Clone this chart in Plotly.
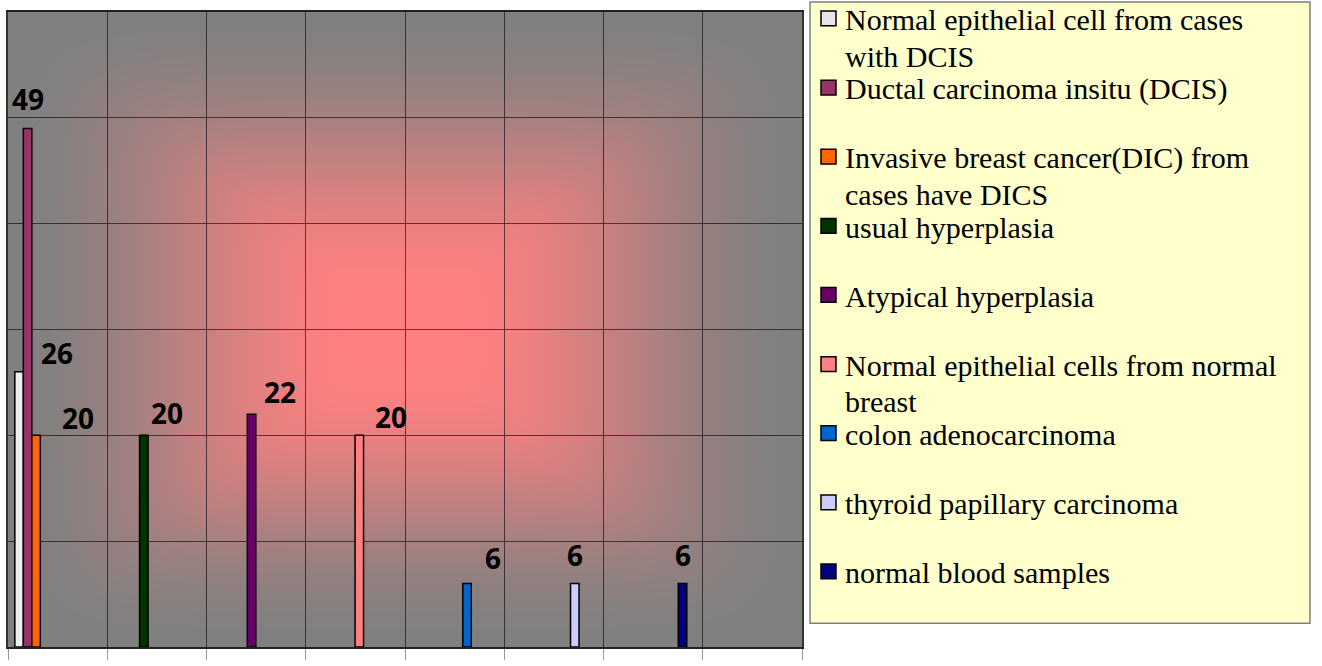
import numpy as np, zlib, struct, base64
import plotly.graph_objects as go

# ---------------- data ----------------
series_names = [
    "Normal epithelial cell from cases<br>with DCIS",
    "Ductal carcinoma insitu (DCIS)",
    "Invasive breast cancer(DIC) from<br>cases have DICS",
    "usual hyperplasia",
    "Atypical hyperplasia",
    "Normal epithelial cells from normal<br>breast",
    "colon adenocarcinoma",
    "thyroid papillary carcinoma",
    "normal blood samples",
]
series_values = [26, 49, 20, 20, 22, 20, 6, 6, 6]
series_category = [0, 0, 0, 1, 2, 3, 4, 5, 6]   # category slot each series sits in
n_categories = 8

# ---------------- style ----------------
colors = ["#efefef", "#993366", "#ff6600", "#003300", "#660066",
          "#ff8080", "#0066cc", "#ccccff", "#000080"]
legend_colors = ["#e6e6e6"] + colors[1:]
label_xshift = [38, 0, 42, 23, 28, 32, 26, 0, 0]
label_yshift = [19, 29, 17, 22, 22, 18, 26, 29, 29]

W_FIG, H_FIG = 1322, 666
L, R, T, B = 8, 802, 12, 655
bargap = 0.23
delta = 0.046  # grid offset relative to category centres

# ---------------- background gradient (image) ----------------
GW, GH = 397, 322
gx = (np.arange(GW) + 0.5) / GW * 2 - 1
gy = (np.arange(GH) + 0.5) / GH * 2 - 1
X, Y = np.meshgrid(gx, gy)
p = 8
d = np.clip((np.abs(X) ** p + np.abs(Y) ** p) ** (1 / p), 0, 1)
d = np.clip((d - 0.1) / 0.9, 0, 1)
f = 1 - (3 * d ** 2 - 2 * d ** 3)
red = 128 + 127 * f
img = np.stack([red, np.full_like(red, 128), np.full_like(red, 128)], -1).round().astype(np.uint8)
raw = b"".join(b"\x00" + img[i].tobytes() for i in range(GH))


def chunk(t, data):
    return struct.pack(">I", len(data)) + t + data + struct.pack(">I", zlib.crc32(t + data) & 0xffffffff)


png = (b"\x89PNG\r\n\x1a\n"
       + chunk(b"IHDR", struct.pack(">IIBBBBB", GW, GH, 8, 2, 0, 0, 0))
       + chunk(b"IDAT", zlib.compress(raw, 9))
       + chunk(b"IEND", b""))
bg_src = "data:image/png;base64," + base64.b64encode(png).decode()

# ---------------- figure ----------------
fig = go.Figure()
n = len(series_values)
for i in range(n):
    fig.add_trace(go.Bar(
        x=[series_category[i]], y=[series_values[i]],
        name=series_names[i].replace("<br>", " "),
        marker=dict(color=colors[i], line=dict(color="black", width=1.5)),
        showlegend=False,
    ))

bw = (1 - bargap) / n
annotations = []
for i in range(n):
    cx = series_category[i] - (1 - bargap) / 2 + (i + 0.5) * bw
    annotations.append(dict(
        x=cx, y=series_values[i], xref="x", yref="y",
        text=str(series_values[i]), showarrow=False,
        xanchor="center", yanchor="middle",
        xshift=label_xshift[i], yshift=label_yshift[i],
        font=dict(family="Open Sans", size=28, color="black", weight="bold"),
    ))

# manual legend
def px(x):
    return (x - L) / (R - L)


def py(y):
    return (B - y) / (B - T)


shapes = [dict(type="rect", xref="paper", yref="paper",
               x0=px(810), x1=px(1310), y0=py(631), y1=py(2),
               fillcolor="#ffffcc", line=dict(color="#7f7f7f", width=1.5), layer="above")]
step = 70
line_step = 37
for i in range(n):
    top = 10 + step * i
    shapes.append(dict(type="rect", xref="paper", yref="paper",
                       x0=px(821), x1=px(836), y0=py(top + 16), y1=py(top + 1),
                       fillcolor=legend_colors[i],
                       line=dict(color="black", width=1.5), layer="above"))
    for j, line in enumerate(series_names[i].split("<br>")):
        annotations.append(dict(
            x=px(843), y=py(1 + step * i + line_step * j), xref="paper", yref="paper",
            text=line, showarrow=False, align="left",
            xanchor="left", yanchor="top",
            font=dict(family="Liberation Serif", size=30, color="black"),
        ))

fig.update_layout(
    width=W_FIG, height=H_FIG,
    margin=dict(l=L, r=W_FIG - R, t=T, b=H_FIG - B, pad=0),
    paper_bgcolor="white", plot_bgcolor="rgba(0,0,0,0)",
    barmode="group", bargap=bargap, bargroupgap=0,
    showlegend=False,
    images=[dict(source=bg_src, xref="paper", yref="paper", x=0, y=1,
                 sizex=1, sizey=1, sizing="stretch", layer="below",
                 xanchor="left", yanchor="top")],
    shapes=shapes,
    annotations=annotations,
    xaxis=dict(range=[-0.5 + delta, n_categories - 0.5 + delta],
               tickmode="linear", tick0=-0.5 + delta, dtick=1,
               showgrid=True, gridcolor="rgba(0,0,0,0.6)", gridwidth=1,
               ticks="outside", ticklen=11, tickcolor="#9a9a9a", tickwidth=1,
               showticklabels=False, zeroline=False,
               showline=True, linecolor="#222222", linewidth=1.5, mirror=True),
    yaxis=dict(range=[0, 60], tickmode="linear", tick0=0, dtick=10,
               showgrid=True, gridcolor="rgba(0,0,0,0.6)", gridwidth=1,
               showticklabels=False, ticks="", zeroline=False,
               showline=True, linecolor="#333333", linewidth=1.5, mirror=True),
)

fig.write_html("out.html")
